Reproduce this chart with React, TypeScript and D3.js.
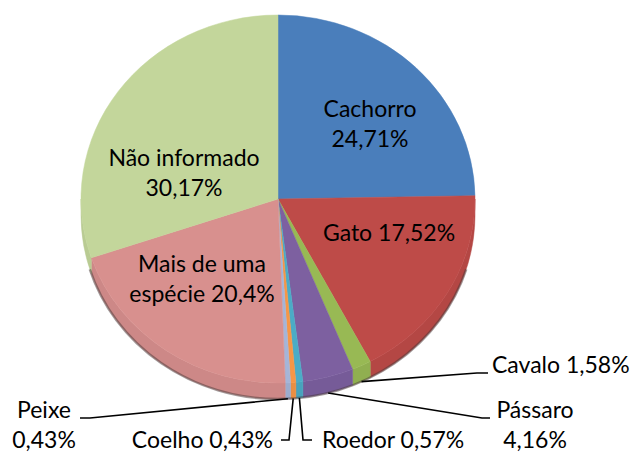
import React from "react";
import * as d3 from "d3";

const categories = ["Cachorro", "Gato", "Cavalo", "Pássaro", "Roedor", "Coelho", "Peixe", "Mais de uma espécie", "Não informado"];
const values = [24.71, 17.52, 1.58, 4.16, 0.57, 0.43, 0.43, 20.4, 30.17];
const labelLines = [
  ["Cachorro", "24,71%"],
  ["Gato 17,52%"],
  ["Cavalo 1,58%"],
  ["Pássaro", "4,16%"],
  ["Roedor 0,57%"],
  ["Coelho 0,43%"],
  ["Peixe", "0,43%"],
  ["Mais de uma", "espécie 20,4%"],
  ["Não informado", "30,17%"],
];
const colors = ["#4A7EBB", "#BE4B48", "#98B954", "#7D60A0", "#4BACC6", "#F79646", "#A5B5D8", "#D8908E", "#C3D69B"];

// layout (positions only)
const W = 638, H = 453;
const CX = 278, CY = 199, RX = 197, RY = 184, DEPTH = 16;
const FONT = "Lato, sans-serif";
const FS = 23;
const LH = 30;
type Lay = { x: number; y: number; anchor: string; leader?: [number, number][] };
const layout: Lay[] = [
  { x: 370, y: 117, anchor: "middle" },
  { x: 389, y: 241, anchor: "middle" },
  { x: 492, y: 373, anchor: "start", leader: [[477, 373], [488, 373]] },
  { x: 535, y: 418, anchor: "middle", leader: [[482, 418], [490, 418]] },
  { x: 322, y: 448, anchor: "start", leader: [[303, 440], [312, 440]] },
  { x: 273, y: 448, anchor: "end", leader: [[289, 440], [281, 440]] },
  { x: 44, y: 418, anchor: "middle", leader: [[90, 418], [80, 418]] },
  { x: 202, y: 272, anchor: "middle" },
  { x: 184, y: 166, anchor: "middle" },
];

const pt = (a: number, dy = 0): [number, number] => [CX + RX * Math.sin(a), CY - RY * Math.cos(a) + dy];
const f = (p: [number, number]) => `${p[0].toFixed(2)},${p[1].toFixed(2)}`;

export default function App() {
  const pie = d3.pie<number>().sort(null).value((d) => d).startAngle(0).endAngle(2 * Math.PI);
  const arcs = pie(values);

  const tops = arcs.map((a, i) => {
    const large = a.endAngle - a.startAngle > Math.PI ? 1 : 0;
    return { d: `M${CX},${CY}L${f(pt(a.startAngle))}A${RX},${RY} 0 ${large} 1 ${f(pt(a.endAngle))}Z`, c: colors[i] };
  });

  const walls = arcs
    .map((a, i) => {
      const s = Math.max(a.startAngle, Math.PI / 2);
      const e = Math.min(a.endAngle, (3 * Math.PI) / 2);
      if (e <= s) return null;
      const d = `M${f(pt(s))}A${RX},${RY} 0 0 1 ${f(pt(e))}L${f(pt(e, DEPTH))}A${RX},${RY} 0 0 0 ${f(pt(s, DEPTH))}Z`;
      return { d, c: d3.color(colors[i])!.darker(0.15).formatHex() };
    })
    .filter(Boolean) as { d: string; c: string }[];

  const rim = `M${f(pt(Math.PI / 2 + 0.3, DEPTH))}A${RX},${RY} 0 0 1 ${f(pt((3 * Math.PI) / 2 - 0.3, DEPTH))}`;

  return (
    <svg width={W} height={H} style={{ position: "absolute", left: 0, top: 0, background: "#fff" }}>
      <g>
        {walls.map((w, i) => (
          <path key={"w" + i} d={w.d} fill={w.c} stroke={w.c} strokeWidth={0.5} />
        ))}
        <path d={rim} fill="none" stroke="#4a3a3a" strokeOpacity={0.5} strokeWidth={2.5} />
        {tops.map((t, i) => (
          <path key={"t" + i} d={t.d} fill={t.c} stroke={t.c} strokeWidth={0.5} />
        ))}
      </g>
      <g>
        {arcs.map((a, i) => {
          const L = layout[i];
          if (!L.leader) return null;
          const mid = (a.startAngle + a.endAngle) / 2;
          const start = pt(mid, DEPTH);
          const pts = [start, ...L.leader];
          return <path key={"l" + i} d={d3.line()(pts as [number, number][])!} fill="none" stroke="#000" strokeWidth={1.6} />;
        })}
      </g>
      <g fontFamily={FONT} fontSize={FS} fill="#000">
        {categories.map((c, i) => {
          const L = layout[i];
          return (
            <text key={c} x={L.x} y={L.y} textAnchor={L.anchor}>
              {labelLines[i].map((line, j) => (
                <tspan key={j} x={L.x} y={L.y + j * LH}>
                  {line}
                </tspan>
              ))}
            </text>
          );
        })}
      </g>
    </svg>
  );
}
